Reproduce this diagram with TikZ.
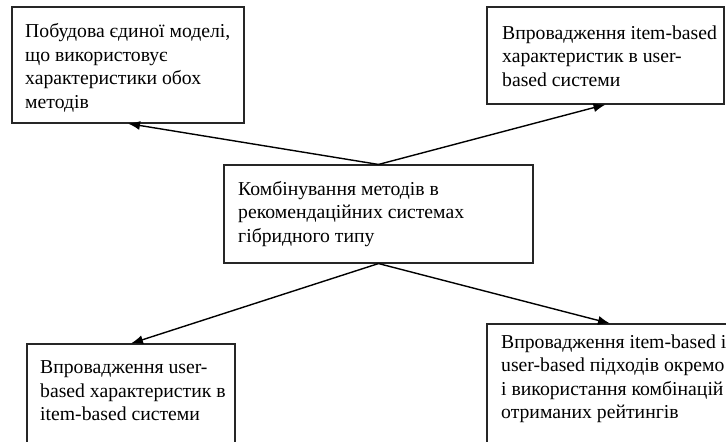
\documentclass[tikz,border=0pt]{standalone}
\usepackage{fontspec}
\setmainfont{Liberation Serif}
\usetikzlibrary{arrows.meta}
\begin{document}
\begin{tikzpicture}[x=1pt,y=-1pt,
  box/.style={draw=black!85,line width=1.1pt,rectangle,inner sep=0pt,anchor=center},
  txt/.style={align=left,inner sep=0pt,anchor=west,
    font=\fontsize{19.7}{23.5}\selectfont},
  link/.style={line width=1.4pt,-{Latex[length=12pt,width=9pt]}}]
\clip (0,0) rectangle (726,442);
\fill[white] (0,0) rectangle (726,442);
% frames
\node[box,minimum width=232pt,minimum height=116pt] (b1) at (128,65) {};
\node[box,minimum width=237pt,minimum height=97pt] (b2) at (605.5,55.5) {};
\node[box,minimum width=309pt,minimum height=98pt] (c) at (378.5,214) {};
\node[box,minimum width=208pt,minimum height=104pt] (b3) at (131,396) {};
\node[box,minimum width=246pt,minimum height=124pt] (b4) at (610,386) {};
% texts inside the frames
\node[txt] (t1) at (25,68)
  {Побудова єдиної моделі,\\що використовує\\характеристики обох\\методів};
\node[txt] (t2) at (502,56)
  {Впровадження item-based\\характеристик в user-\\based системи};
\node[txt] (tc) at (238,214)
  {Комбінування методів в\\рекомендаційних системах\\гібридного типу};
\node[txt] (t3) at (40,391)
  {Впровадження user-\\based характеристик в\\item-based системи};
\node[txt] (t4) at (501,379)
  {Впровадження item-based і\\user-based підходів окремо\\і використання комбінацій\\отриманих рейтингів};
% connectors from the central frame
\draw[link] (c.north) -- (b1.south);
\draw[link] (c.north) -- (b2.south);
\draw[link] (c.south) -- (b3.north);
\draw[link] (c.south) -- (b4.north);
\end{tikzpicture}
\end{document}
